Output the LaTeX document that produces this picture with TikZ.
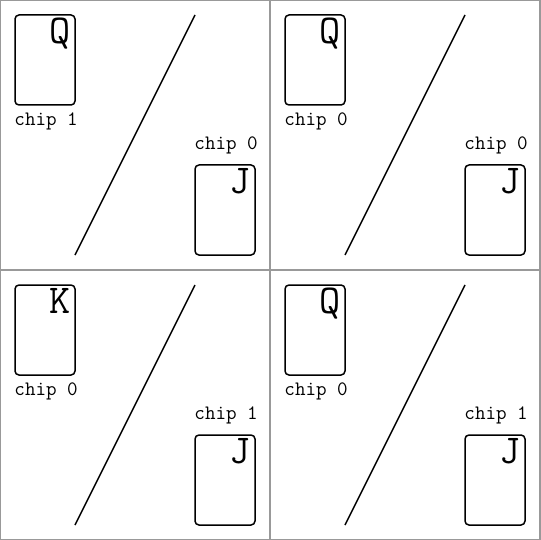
\documentclass[tikz,border=0pt]{standalone}
\usetikzlibrary{positioning}

\tikzset{
  card/.style={draw, line width=1.5pt, rounded corners=4pt, minimum width=60pt, minimum height=90pt, inner sep=0pt},
  rank/.style={font=\ttfamily\fontsize{41}{41}\selectfont, inner sep=0pt},
  chiplabel/.style={font=\ttfamily\fontsize{20.5}{20.5}\selectfont, inner sep=0pt},
  grid/.style={draw=gray!80, line width=1.6pt}
}

\begin{document}
\begin{tikzpicture}[x=1pt, y=-1pt]
  \useasboundingbox (0,0) rectangle (540,540);
  % quadrants
  \draw[grid] (0,0) rectangle (540,540);
  \draw[grid] (270,0) -- (270,540);
  \draw[grid] (0,270) -- (540,270);
  \foreach \dx/\dy/\top/\chiptop/\chipbot/\q in {0/0/Q/1/0/a, 270/0/Q/0/0/b, 0/270/K/0/1/c, 270/270/Q/0/1/d}{
    \begin{scope}[shift={(\dx,\dy)}]
      \node[card] (top-\q) at (45,60) {};
      \node[rank, anchor=north east] (toprank-\q) at ([xshift=-5pt,yshift=-4pt]top-\q.north east) {\top};
      \node[chiplabel, anchor=north west] (topchip-\q) at ([xshift=0pt,yshift=-7pt]top-\q.south west) {chip \chiptop};
      \node[card] (bot-\q) at (225,210) {};
      \node[rank, anchor=north east] (botrank-\q) at ([xshift=-5pt,yshift=-4pt]bot-\q.north east) {J};
      \node[chiplabel, anchor=south west] (botchip-\q) at ([xshift=0pt,yshift=10pt]bot-\q.north west) {chip \chipbot};
      \coordinate (lo-\q) at (75,255);
      \coordinate (hi-\q) at (195,15);
      \draw[line width=1.5pt] (lo-\q) -- (hi-\q);
    \end{scope}
  }
\end{tikzpicture}
\end{document}
